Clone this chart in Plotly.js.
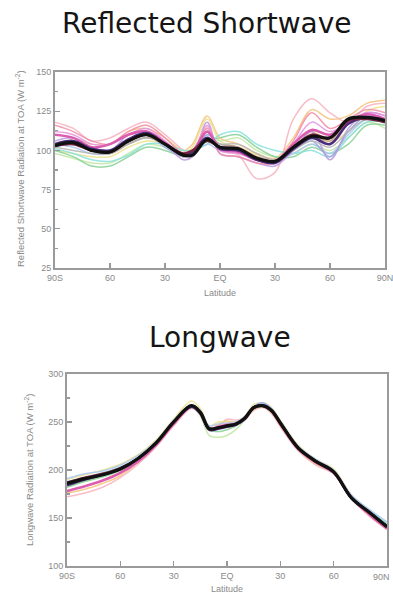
<!DOCTYPE html>
<html>
<head>
<meta charset="utf-8">
<script src="https://cdn.plot.ly/plotly-3.0.1.min.js"></script>
<style>html,body{margin:0;padding:0;background:#fff;}#chart{width:393px;height:596px;}</style>
</head>
<body>
<div id="chart"></div>
<script>
// ---------- data ----------
const latSW = [-90,-80,-70,-60,-50,-40,-30,-20,-15,-7,0,10,20,30,40,50,60,70,80,90];
const swMembers = [
  [118,114,106,108,114,118,110,100,96,115,100,97,82,86,120,133,124,118,128,130],
  [110,108,104,104,112,114,108,100,104,122,108,104,98,95,108,126,120,122,130,132],
  [100,98,96,96,102,106,104,98,102,120,106,102,97,94,100,112,106,112,125,128],
  [98,95,92,92,98,104,102,97,100,110,106,108,100,96,98,104,100,108,118,114],
  [100,96,90,90,96,102,100,96,98,106,108,110,102,96,96,102,98,104,116,116],
  [101,98,94,93,97,104,104,100,100,104,110,112,104,100,98,100,96,108,118,118],
  [104,102,98,98,104,108,104,96,98,104,100,100,96,94,98,104,98,110,120,120],
  [102,104,100,100,106,110,102,96,98,110,104,102,94,92,100,106,96,112,122,120],
  [106,108,102,100,110,112,104,94,96,118,98,96,92,90,100,112,94,114,124,122],
  [112,110,104,104,110,114,106,96,98,116,100,98,94,92,104,118,112,118,124,122],
  [116,112,106,104,112,116,108,98,100,114,98,96,92,92,106,124,114,120,126,124],
  [104,104,100,98,104,108,104,98,98,108,104,102,96,94,100,108,106,118,120,120],
  [102,100,98,98,104,108,104,96,98,106,104,104,98,94,100,106,102,112,120,118]
];
const swThick = [
  [110,108,102,104,110,112,105,97,99,112,101,99,94,93,104,113,110,118,123,120],
  [104,106,101,100,107,111,104,97,99,108,101,100,94,92,101,108,104,117,121,119],
  [103,104,100,99,106,110,104,98,100,106,102,101,95,93,102,110,108,119,120,118]
];
const swMean = [103,105,100,99,106,110,104,97,97,107,102,101,95,93,102,109,108,120,121,119];

const latLW = [-90,-80,-70,-60,-50,-40,-30,-20,-15,-10,-5,0,5,10,15,20,25,30,40,50,60,70,80,90];
const lwMembers = [
  [172,176,182,192,206,224,246,264,258,241,246,253,252,254,262,265,259,245,220,205,196,170,152,138],
  [176,180,186,194,208,225,248,265,259,242,247,251,250,252,263,266,260,246,221,206,197,171,153,139],
  [190,195,200,206,216,231,253,272,264,246,250,250,250,256,268,270,265,252,226,211,201,174,158,145],
  [184,189,193,199,210,226,249,266,256,236,234,236,242,252,264,268,263,250,224,210,199,172,157,142],
  [182,188,193,200,211,227,249,265,258,242,240,242,246,253,264,266,261,248,222,208,197,170,155,140],
  [188,192,197,203,213,229,251,268,261,244,245,247,249,255,266,268,263,250,224,210,199,173,158,144],
  [191,196,199,205,215,230,252,268,262,246,248,249,250,256,266,269,264,251,225,211,200,174,159,146],
  [185,190,195,202,212,228,250,268,261,244,244,245,247,254,266,270,264,250,223,209,198,172,156,142]
];
const lwThick = [
  [178,183,189,197,209,226,248,266,259,243,245,247,248,254,265,267,262,248,222,208,197,171,154,139],
  [184,190,195,201,212,228,250,266,259,242,243,245,247,253,265,267,262,249,223,209,198,171,156,141],
  [187,192,196,202,212,228,250,267,260,243,244,246,248,254,265,267,262,249,223,209,198,171,156,141]
];
const lwMean = [186,191,195,201,212,228,250,267,260,243,244,246,248,254,265,267,262,249,223,209,198,171,156,141];

const latTickVals = [-90,-60,-30,0,30,60,90];
const latTickText = ["90S","60","30","EQ","30","60","90N"];

const memberColors = ["#f6b3c0","#f6c27a","#ece28c","#bfe8a4","#86d094","#86e0dc","#a8c8f0",
                      "#95a5ea","#bb96dc","#e492e2","#f08ca6","#c29a7c","#b4b4b4"];
const thickColors = ["#dc5cb0","#4a2c7c","#7a2442"];

// ---------- traces ----------
const traces = [];
function addSet(lat, members, thick, mean, xa, ya) {
  members.forEach((m, i) => traces.push({x: lat, y: m, xaxis: xa, yaxis: ya, mode: 'lines',
    line: {color: memberColors[i % memberColors.length], width: 1.5, shape: 'spline', smoothing: 1},
    opacity: 0.85, hoverinfo: 'skip'}));
  thick.forEach((m, i) => traces.push({x: lat, y: m, xaxis: xa, yaxis: ya, mode: 'lines',
    line: {color: thickColors[i], width: 2.6, shape: 'spline', smoothing: 1}, hoverinfo: 'skip'}));
  traces.push({x: lat, y: mean, xaxis: xa, yaxis: ya, mode: 'lines',
    line: {color: '#111111', width: 3.2, shape: 'spline', smoothing: 1}, hoverinfo: 'skip'});
}
addSet(latSW, swMembers, swThick, swMean, 'x', 'y');
addSet(latLW, lwMembers, lwThick, lwMean, 'x2', 'y2');

const tickFont = {family: 'Liberation Sans, Arial, sans-serif', size: 9, color: '#8a8a8a'};
function xAxis(domain, anchor, ticktext) {
  return {domain: domain, anchor: anchor, range: [-90, 90], tickmode: 'array',
    tickvals: latTickVals, ticktext: ticktext, ticks: 'inside', ticklen: 5, tickwidth: 1.2,
    tickcolor: '#999', showline: true, linecolor: '#9a9a9a', linewidth: 2, mirror: true,
    ticklabeloverflow: 'allow', showgrid: false, zeroline: false, tickfont: tickFont};
}
function yAxis(domain, anchor, range, dtick) {
  return {domain: domain, anchor: anchor, range: range, dtick: dtick, tick0: range[0],
    ticks: 'inside', ticklen: 5, tickwidth: 1.2, tickcolor: '#999',
    minor: {dtick: dtick / 2, ticks: 'inside', ticklen: 3, tickcolor: '#999', showgrid: false},
    showline: true, linecolor: '#9a9a9a', linewidth: 2, mirror: true,
    ticklabeloverflow: 'allow', showgrid: false, zeroline: false, tickfont: tickFont};
}

const W = 393, H = 596;
const px = v => v / W, py = v => 1 - v / H;
const labelFont = {family: 'Liberation Sans, Arial, sans-serif', size: 9, color: '#8a8a8a'};
const titleFont = {family: 'DejaVu Sans, sans-serif', size: 28, color: '#151515'};
const ann = (text, x, y, font, extra) => Object.assign({text: text, x: px(x), y: py(y),
  xref: 'paper', yref: 'paper', xanchor: 'center', yanchor: 'middle', showarrow: false, font: font}, extra || {});

// bottom panel: the last latitude label sits at the page edge, so it is drawn just inside it
const lwTickText = latTickText.slice(0, -1).concat([""]);

const layout = {
  width: W, height: H, margin: {l: 0, r: 0, t: 0, b: 0},
  paper_bgcolor: '#fff', plot_bgcolor: '#fff', showlegend: false,
  xaxis: xAxis([px(55), px(385)], 'y', latTickText),
  yaxis: yAxis([py(268), py(72)], 'x', [25, 150], 25),
  xaxis2: xAxis([px(67), px(387)], 'y2', lwTickText),
  yaxis2: yAxis([py(566), py(374)], 'x2', [100, 300], 50),
  annotations: [
    ann('Reflected Shortwave', 207, 24, titleFont),
    ann('Longwave', 220, 337, titleFont),
    ann('Latitude', 220, 293, labelFont),
    ann('Latitude', 227, 589, labelFont),
    ann(latTickText[latTickText.length - 1], 392, 577, tickFont, {xanchor: 'right'}),
    ann('Reflected Shortwave Radiation at TOA (W m<sup>-2</sup>)', 20, 169, {...labelFont, size: 9.5}, {textangle: -90}),
    ann('Longwave Radiation at TOA (W m<sup>-2</sup>)', 29, 470, {...labelFont, size: 9.5}, {textangle: -90})
  ]
};

Plotly.newPlot('chart', traces, layout, {staticPlot: true, displayModeBar: false});
</script>
</body>
</html>
